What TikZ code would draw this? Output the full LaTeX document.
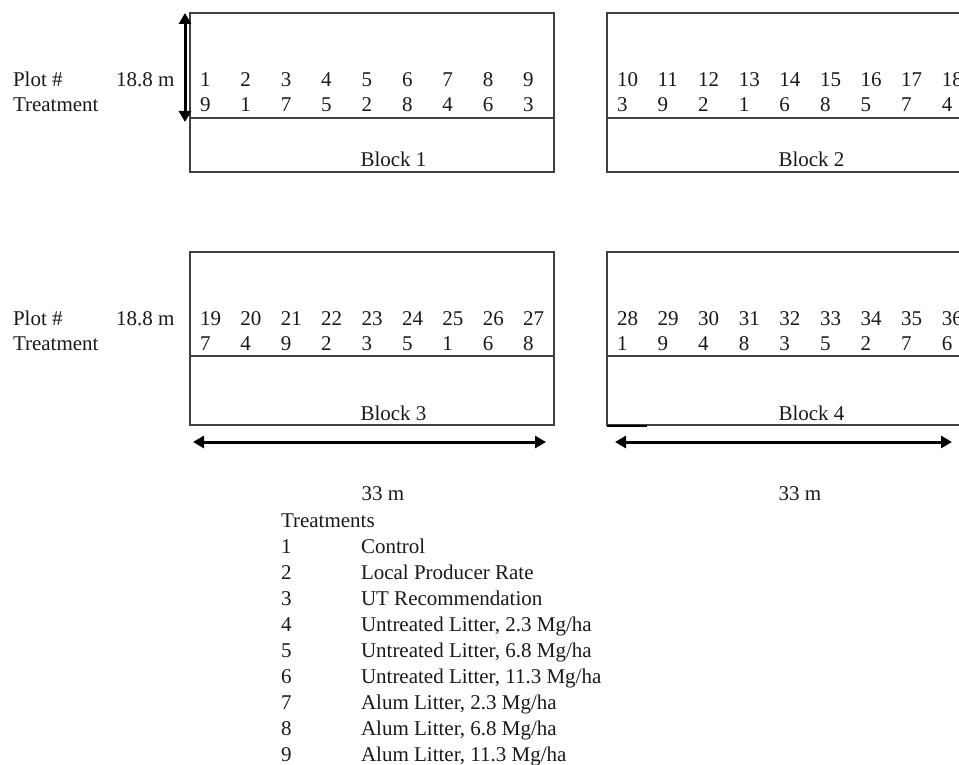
\documentclass[tikz,border=0pt]{standalone}
\usepackage{fontspec}
\setmainfont{Liberation Serif}
\usetikzlibrary{arrows.meta}
\begin{document}
\begin{tikzpicture}[x=1pt,y=-1pt,
  every node/.style={inner sep=0pt,outer sep=0pt,font=\fontsize{21}{25}\selectfont,text=black!90},
  lbl/.style={anchor=base west},
  ctr/.style={anchor=base},
  blockbox/.style={draw=black!75,line width=1.4pt,anchor=north west,minimum width=364pt},
  divider/.style={draw=black!75,line width=1.4pt},
  dimarrow/.style={line width=3pt,black,{Triangle[length=11pt,width=12pt]}-{Triangle[length=11pt,width=12pt]}}
]
\clip (0,0) rectangle (959,765);

% field blocks
\node[blockbox,minimum height=159pt] (b1) at (190,13) {};
\node[blockbox,minimum height=159pt,minimum width=380pt] (b2) at (607,13) {};
\node[blockbox,minimum height=173pt] (b3) at (190,252) {};
\node[blockbox,minimum height=173pt,minimum width=380pt] (b4) at (607,252) {};

% row dividers
\coordinate (d1) at (190,118); \draw[divider] (d1) -- (d1 -| b1.east);
\coordinate (d2) at (607,118); \draw[divider] (d2) -- (d2 -| b2.east);
\coordinate (d3) at (190,356); \draw[divider] (d3) -- (d3 -| b3.east);
\coordinate (d4) at (607,356); \draw[divider] (d4) -- (d4 -| b4.east);
\coordinate (s4a) at (607,426); \coordinate (s4b) at (647,426);
\draw[line width=1.6pt,black] (s4a) -- (s4b);

% row headings
\node[lbl] (plotA) at (13,87) {Plot \#};
\node[lbl] (treatA) at (13,111.5) {Treatment};
\node[lbl] (wA) at (116,87) {18.8 m};
\node[lbl] (plotB) at (13,325) {Plot \#};
\node[lbl] (treatB) at (13,350) {Treatment};
\node[lbl] (wB) at (116,325) {18.8 m};

% plot numbers and treatments
\foreach \p [count=\k from 0] in {1,...,9}
  \node[lbl] (p\p) at ({200+40.4*\k},87) {\p};
\foreach \t [count=\k from 0] in {9,1,7,5,2,8,4,6,3}
  \node[lbl] (ta\k) at ({200+40.4*\k},111.5) {\t};
\foreach \p [count=\k from 0] in {10,...,18}
  \node[lbl] (p\p) at ({617+40.6*\k},87) {\p};
\foreach \t [count=\k from 0] in {3,9,2,1,6,8,5,7,4}
  \node[lbl] (tb\k) at ({617+40.6*\k},111.5) {\t};
\foreach \p [count=\k from 0] in {19,...,27}
  \node[lbl] (p\p) at ({200+40.4*\k},325) {\p};
\foreach \t [count=\k from 0] in {7,4,9,2,3,5,1,6,8}
  \node[lbl] (tc\k) at ({200+40.4*\k},350) {\t};
\foreach \p [count=\k from 0] in {28,...,36}
  \node[lbl] (p\p) at ({617+40.6*\k},325) {\p};
\foreach \t [count=\k from 0] in {1,9,4,8,3,5,2,7,6}
  \node[lbl] (td\k) at ({617+40.6*\k},350) {\t};

% block names
\node[ctr] (n1) at (393.5,166.5) {Block 1};
\node[ctr] (n2) at (811.5,166.5) {Block 2};
\node[ctr] (n3) at (393.5,420) {Block 3};
\node[ctr] (n4) at (811.5,420) {Block 4};

% dimensions
\coordinate (va) at (185,13); \coordinate (vb) at (185,122);
\draw[dimarrow] (va) -- (vb);
\coordinate (h3a) at (193,442); \coordinate (h3b) at (546,442);
\draw[dimarrow] (h3a) -- (h3b);
\coordinate (h4a) at (615,442); \coordinate (h4b) at (952,442);
\draw[dimarrow] (h4a) -- (h4b);
\node[ctr] (m3) at (383,500) {33 m};
\node[ctr] (m4) at (800,500) {33 m};

% treatment key
\node[lbl] (key) at (281,527) {Treatments};
\foreach \d [count=\k from 0] in {Control,Local Producer Rate,UT Recommendation,
    {Untreated Litter, 2.3 Mg/ha},{Untreated Litter, 6.8 Mg/ha},{Untreated Litter, 11.3 Mg/ha},
    {Alum Litter, 2.3 Mg/ha},{Alum Litter, 6.8 Mg/ha},{Alum Litter, 11.3 Mg/ha}}{
  \pgfmathtruncatemacro{\n}{\k+1}
  \node[lbl] (kn\n) at (281,{553+26.1*\k}) {\n};
  \node[lbl] (kd\n) at (361,{553+26.1*\k}) {\d};
}
\end{tikzpicture}
\end{document}
